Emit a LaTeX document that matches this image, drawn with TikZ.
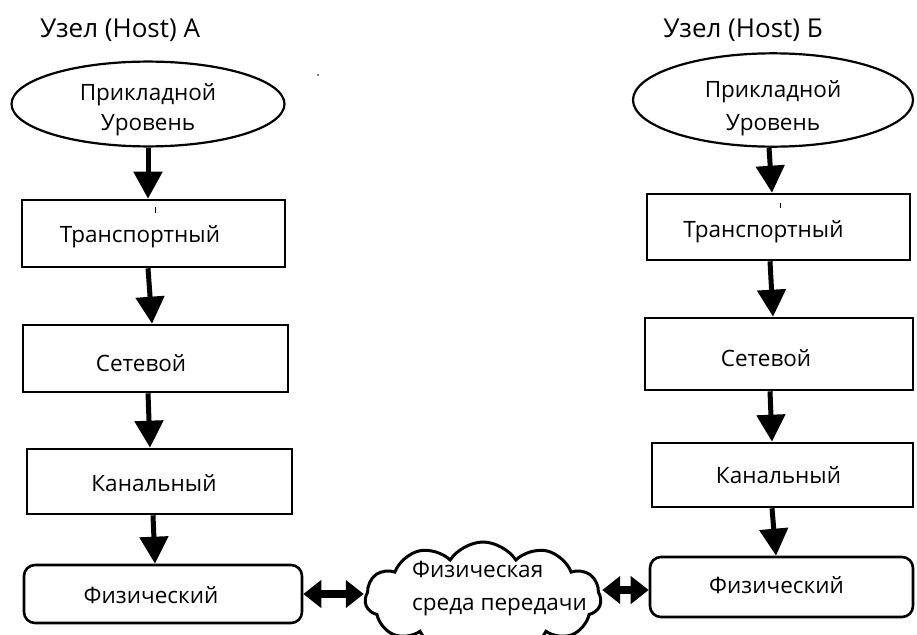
\documentclass[tikz,border=0pt]{standalone}
\usepackage{fontspec}
\setmainfont{Open Sans}
\usetikzlibrary{arrows.meta,shapes.geometric,shapes.symbols}
\newcommand{\dn}[2]{\raisebox{-#1}[\height][\depth]{#2}}
\newcommand{\twolines}[3]{\dn{#1}{\begin{tabular}{@{}c@{}}#2\\#3\end{tabular}}}
\begin{document}
\begin{tikzpicture}[x=1pt,y=-1pt,
  lbl/.style={font=\fontsize{26}{30}\selectfont,inner sep=0pt},
  layer/.style={draw,line width=2.6pt,inner sep=0pt,font=\fontsize{22.5}{27}\selectfont},
  phys/.style={layer,rounded corners=11pt},
  app/.style={draw,ellipse,line width=2.2pt,inner sep=0pt},
  down/.style={line width=5pt,-{Triangle[length=27pt,width=28pt]}},
  both/.style={line width=8pt,{Triangle[length=18pt,width=27pt]}-{Triangle[length=18pt,width=27pt]}},
  media/.style={draw,cloud,cloud puffs=11,cloud puff arc=115,line width=3pt,inner sep=0pt,minimum width=236pt,minimum height=112pt},
  mediatext/.style={inner sep=0pt,align=left,font=\fontsize{22.5}{33}\selectfont}]
\useasboundingbox[fill=white] (0,0) rectangle (917,634);

\node[lbl] (hA) at (120,30) {Узел (Host) А};
\node[lbl] (hB) at (743,30) {Узел (Host) Б};

\node[app,minimum width=273pt,minimum height=72pt,font=\fontsize{22.5}{30}\selectfont] (ellA) at (148,104) {\twolines{6pt}{Прикладной}{Уровень}};
\node[layer,minimum width=263pt,minimum height=67pt] (trA) at (153.5,233.5) {\dn{3pt}{Транспортный}\kern27pt};
\node[layer,minimum width=265pt,minimum height=67pt] (netA) at (155.5,358.5) {\dn{5pt}{Сетевой}\kern29pt};
\node[layer,minimum width=265pt,minimum height=65pt] (chA) at (159.5,481.5) {\dn{1.5pt}{Канальный}\kern11pt};
\node[phys,minimum width=278pt,minimum height=58pt] (phA) at (163,594) {\dn{1pt}{Физический}\kern24pt};

\node[app,minimum width=280pt,minimum height=74pt,font=\fontsize{22.5}{33}\selectfont] (ellB) at (773,100) {\twolines{7pt}{Прикладной}{Уровень}};
\node[layer,minimum width=263pt,minimum height=66pt] (trB) at (778.5,227) {\dn{5pt}{Транспортный}\kern30pt};
\node[layer,minimum width=268pt,minimum height=72pt] (netB) at (779,354) {\dn{4pt}{Сетевой}\kern26pt};
\node[layer,minimum width=261pt,minimum height=64pt] (chB) at (782.5,475) {Канальный\kern8pt};
\node[phys,minimum width=263pt,minimum height=60pt] (phB) at (781.5,587) {\dn{-2pt}{Физический}\kern10pt};

\node[media] (cl) at (483,598) {};
\node[mediatext,anchor=west] (clT) at (412,589) {Физическая\\среда передачи};

\draw[down] (ellA.south) -- ([xshift=-5.5pt]trA.north);
\draw[down] ([xshift=-5.5pt]trA.south) -- ([xshift=-3.5pt]netA.north);
\draw[down] ([xshift=-7.5pt]netA.south) -- ([xshift=-9.5pt]chA.north);
\draw[down] ([xshift=-6.5pt]chA.south) -- ([xshift=-8pt]phA.north);
\draw[down] ([xshift=-4pt]ellB.south) -- ([xshift=-6.5pt]trB.north);
\draw[down] ([xshift=-8.5pt]trB.south) -- ([xshift=-6pt]netB.north);
\draw[down] ([xshift=-9pt]netB.south) -- ([xshift=-10.5pt]chB.north);
\draw[down] ([xshift=-10.5pt]chB.south) -- ([xshift=-5.5pt]phB.north);

\draw[both] (phA.east) -- (phA.east -| cl.west);
\draw[both] ([yshift=-3pt]phB.west -| cl.east) -- ([yshift=-3pt]phB.west);

% small marks
\draw[line width=1pt] (155,207) -- (155,213);
\draw[line width=1pt] (780,203) -- (780,208);
\fill (318,75) circle (0.8pt);
\end{tikzpicture}
\end{document}
